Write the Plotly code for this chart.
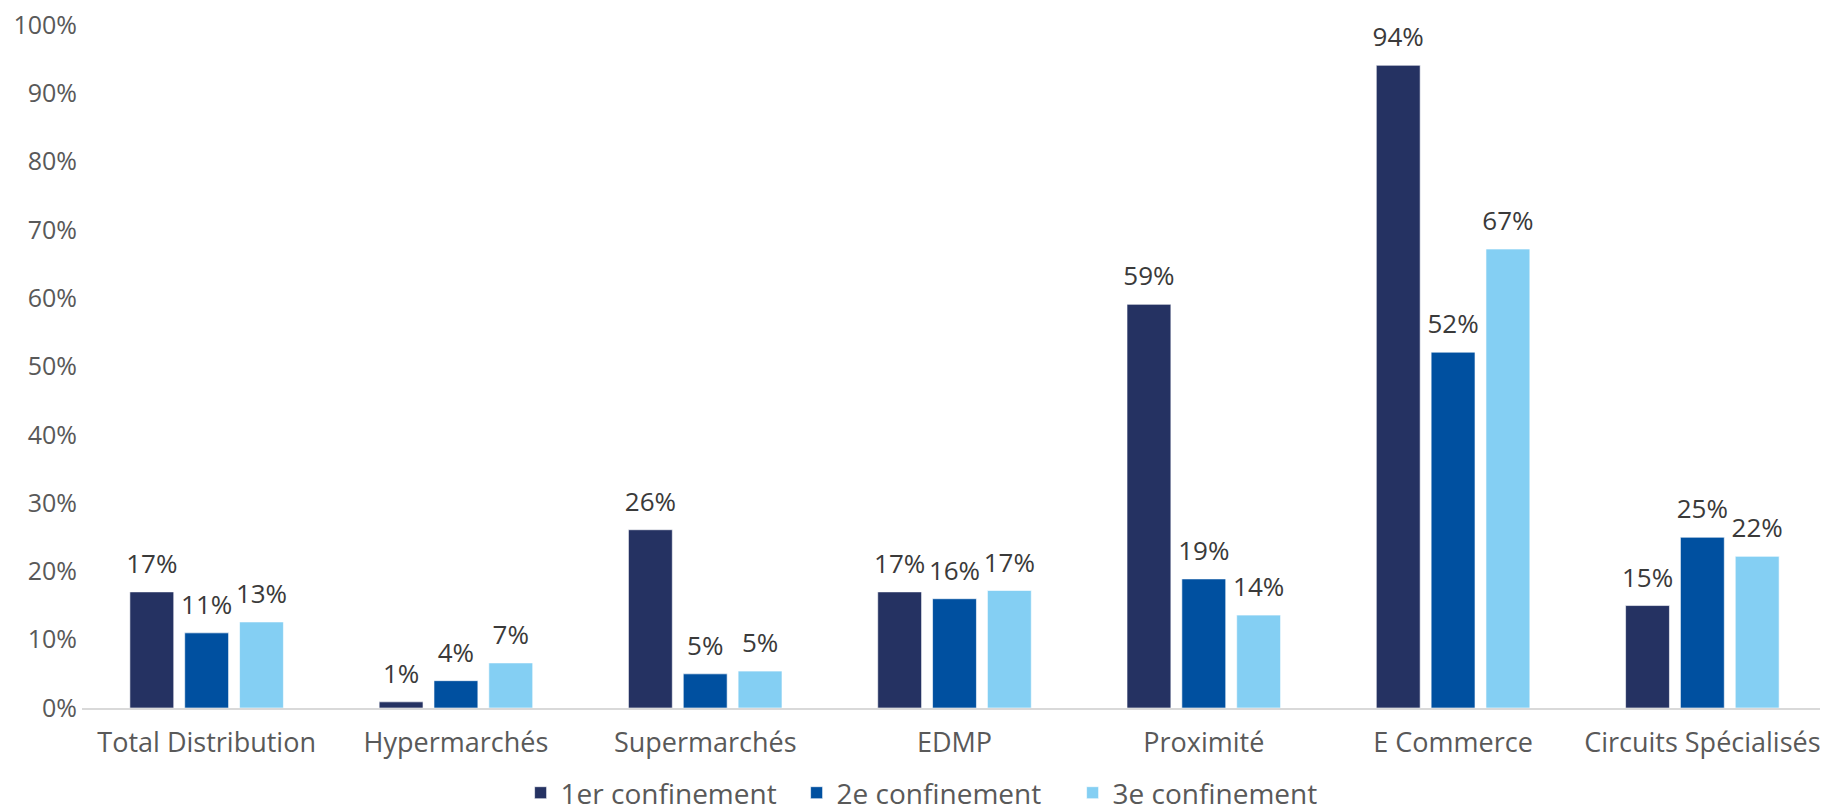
import plotly.graph_objects as go

categories = ["Total Distribution", "Hypermarchés", "Supermarchés", "EDMP",
              "Proximité", "E Commerce", "Circuits Spécialisés"]

series_names = ["1er confinement", "2e confinement", "3e confinement"]
conf_1 = [0.170, 0.009, 0.261, 0.170, 0.591, 0.941, 0.150]
conf_2 = [0.110, 0.040, 0.050, 0.160, 0.189, 0.521, 0.250]
conf_3 = [0.126, 0.066, 0.054, 0.172, 0.136, 0.672, 0.222]

y_ticks = [0, 0.1, 0.2, 0.3, 0.4, 0.5, 0.6, 0.7, 0.8, 0.9, 1.0]

colors = ["#253262", "#0050A0", "#84CFF3"]

FONT = "Open Sans"

fig = go.Figure()
for name, vals, col in zip(series_names, [conf_1, conf_2, conf_3], colors):
    fig.add_trace(go.Bar(
        name=name, x=categories, y=vals,
        marker=dict(color=col, line=dict(color="rgba(255,255,255,0.6)", width=1)),
        # small blank second line lifts the label a bit off the bar
        texttemplate="<span style='font-size:26px'>%{y:.0%}</span><br> ",
        textposition="outside",
        constraintext="none",
        textfont=dict(family=FONT, size=10, color="#3a3a3a"),
        cliponaxis=False,
    ))

fig.update_layout(
    width=1828, height=810,
    paper_bgcolor="white", plot_bgcolor="white",
    margin=dict(l=74, r=9, t=17, b=110),
    barmode="group", bargap=0.34, bargroupgap=0.2,
    font=dict(family=FONT, size=26, color="#595959"),
    legend=dict(orientation="h", x=0.4886, xanchor="center",
                yref="container", y=-0.008, yanchor="bottom",
                font=dict(size=28, color="#595959"), itemwidth=30,
                entrywidth=231, entrywidthmode="pixels",
                traceorder="normal"),
)
fig.update_xaxes(showline=True, linecolor="#d9d9d9", linewidth=2,
                 ticks="", ticklabelstandoff=10, showgrid=False,
                 tickfont=dict(size=27), automargin=False)
fig.update_yaxes(range=[0, 1.0], tickvals=y_ticks, tickformat=".0%",
                 showgrid=False, zeroline=False, ticks="",
                 ticklabelstandoff=4, ticklabeloverflow="allow",
                 tickfont=dict(size=25), automargin=False)

fig.write_html("out.html")
